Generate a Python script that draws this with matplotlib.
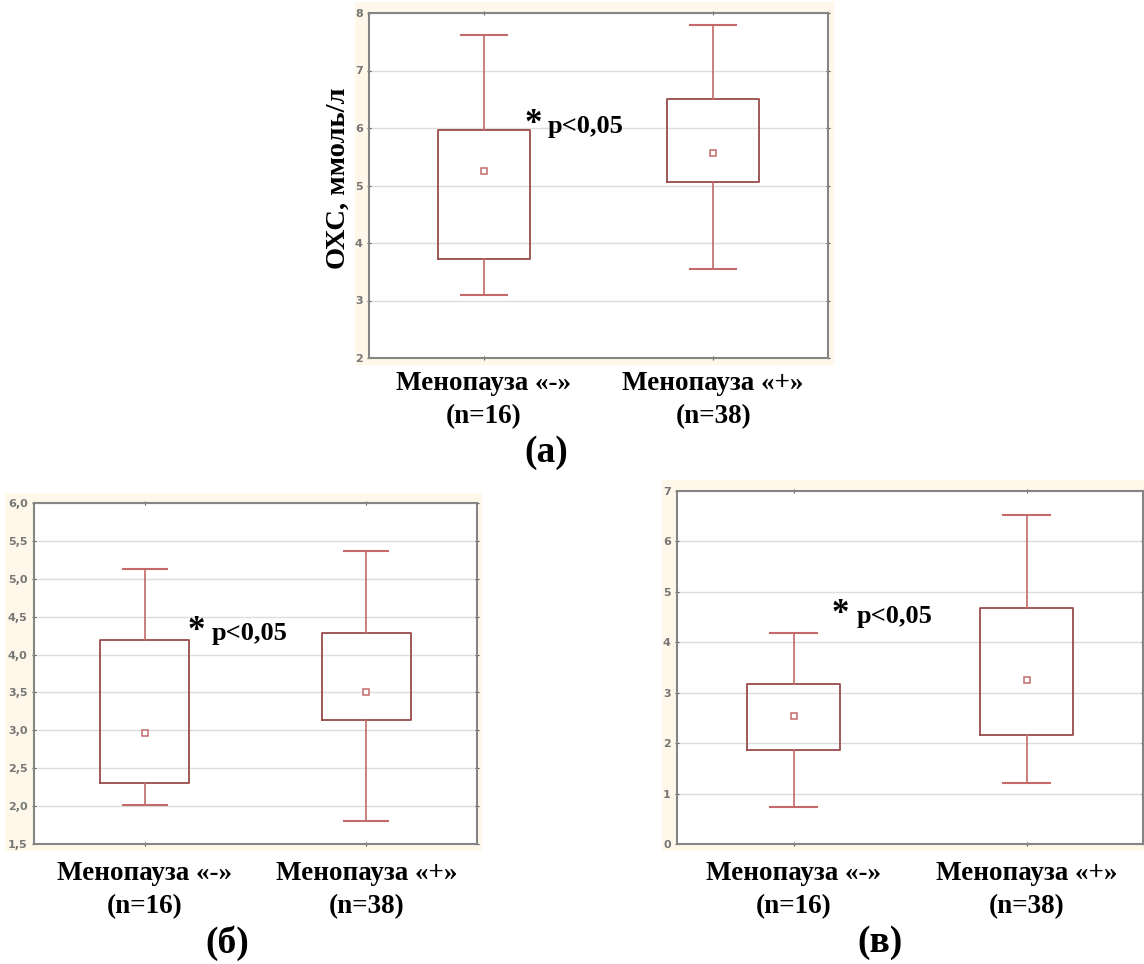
import numpy as np
import matplotlib
matplotlib.use("Agg")
import matplotlib.pyplot as plt
from matplotlib.patches import Rectangle
from matplotlib.ticker import FuncFormatter

plt.rcParams['font.family'] = ['Liberation Serif', 'DejaVu Serif']

# значения: минимум, 25%, медиана, 75%, максимум для двух групп
groups = ["Менопауза «-»\n(n=16)", "Менопауза «+»\n(n=38)"]

a_min = [3.09, 3.54]
a_q1 = [3.72, 5.06]
a_med = [5.25, 5.57]
a_q3 = [5.97, 6.50]
a_max = [7.62, 7.79]

b_min = [2.02, 1.80]
b_q1 = [2.30, 3.14]
b_med = [2.97, 3.50]
b_q3 = [4.19, 4.28]
b_max = [5.13, 5.37]

v_min = [0.73, 1.20]
v_q1 = [1.86, 2.17]
v_med = [2.54, 3.25]
v_q3 = [3.18, 4.68]
v_max = [4.19, 6.52]

W, H = 1144, 964
CREAM = '#FFF8EA'
BOX_C = '#9A4B4B'
WHIS_C = '#C46A6A'


def px_rect(x0, y0, x1, y1):
    # прямоугольник в пикселях (от верхнего левого угла) -> доли фигуры
    return [x0 / W, 1 - y1 / H, (x1 - x0) / W, (y1 - y0) / H]


def comma_fmt(decimals):
    return FuncFormatter(lambda v, p: f"{v:.{decimals}f}".replace('.', ','))


def draw_panel(fig, rect, bg, mins, q1, med, q3, maxs, ylim, step, decimals,
               star_x, p_x, p_y, label_pad):
    fig.patches.append(Rectangle((bg[0] / W, 1 - bg[3] / H), (bg[2] - bg[0]) / W,
                                 (bg[3] - bg[1]) / H, transform=fig.transFigure,
                                 facecolor=CREAM, edgecolor='none', zorder=-5))
    ax = fig.add_axes(px_rect(*rect))
    ax.set_facecolor('white')
    stats = []
    for i in range(2):
        stats.append({'whislo': mins[i], 'q1': q1[i], 'med': med[i], 'q3': q3[i],
                      'whishi': maxs[i], 'mean': med[i], 'fliers': []})
    ax.bxp(stats, positions=[1, 2], widths=0.4, capwidths=0.2, showmeans=True,
           showfliers=False,
           boxprops=dict(color=BOX_C, linewidth=1.3),
           whiskerprops=dict(color=WHIS_C, linewidth=1.2),
           capprops=dict(color=WHIS_C, linewidth=1.5),
           medianprops=dict(linewidth=0),
           meanprops=dict(marker='s', markersize=4, markerfacecolor='white',
                          markeredgecolor=WHIS_C, markeredgewidth=1.1))
    ax.set_xlim(0.5, 2.5)
    ax.set_ylim(*ylim)
    ax.set_yticks(np.arange(ylim[0], ylim[1] + step / 2, step))
    ax.yaxis.set_major_formatter(comma_fmt(decimals))
    ax.yaxis.grid(True, color='#DDDDDD', linewidth=1.0)
    ax.set_axisbelow(True)
    ax.set_xticks([1, 2])
    ax.set_xticklabels(groups, fontsize=19.5, fontweight='bold', linespacing=1.4)
    ax.tick_params(axis='x', direction='inout', length=3, color='#555555',
                   pad=label_pad, top=True)
    ax.tick_params(axis='y', direction='inout', length=3, color='#555555',
                   labelsize=8, labelcolor='#767676', pad=3, right=True)
    for lab in ax.get_yticklabels():
        lab.set_family('DejaVu Sans')
        lab.set_fontweight('bold')
    for s in ax.spines.values():
        s.set_color('#858585')
        s.set_linewidth(1.5)
    ax.text(star_x, p_y, "*", fontsize=25, fontweight='bold',
            ha='left', va='baseline')
    ax.text(p_x, p_y, "p<0,05", fontsize=19, fontweight='bold',
            ha='left', va='baseline')
    return ax


fig = plt.figure(figsize=(W / 100, H / 100), dpi=100)

ax_a = draw_panel(fig, (369, 13, 828, 358), (355, 2, 834, 365),
                  a_min, a_q1, a_med, a_q3, a_max, (2, 8), 1, 0,
                  1.180, 1.280, 5.91, 8)
ax_a.set_ylabel("ОХС, ммоль/л", fontsize=20.5, fontweight='bold')
ax_a.yaxis.set_label_coords(-0.041, 0.52)

draw_panel(fig, (34, 503, 477, 844), (5, 493, 482, 851),
           b_min, b_q1, b_med, b_q3, b_max, (1.5, 6.0), 0.5, 1,
           1.195, 1.304, 4.19, 11)

draw_panel(fig, (677, 491, 1143, 844), (662, 480, 1144, 851),
           v_min, v_q1, v_med, v_q3, v_max, (0, 7), 1, 0,
           1.164, 1.271, 4.38, 11)

for txt, x, y in [("(а)", 546, 452), ("(б)", 227, 943), ("(в)", 880, 943)]:
    fig.text(x / W, 1 - y / H, txt, fontsize=27, fontweight='bold',
             ha='center', va='center')

fig.savefig("out.png", dpi=100, facecolor='white')
